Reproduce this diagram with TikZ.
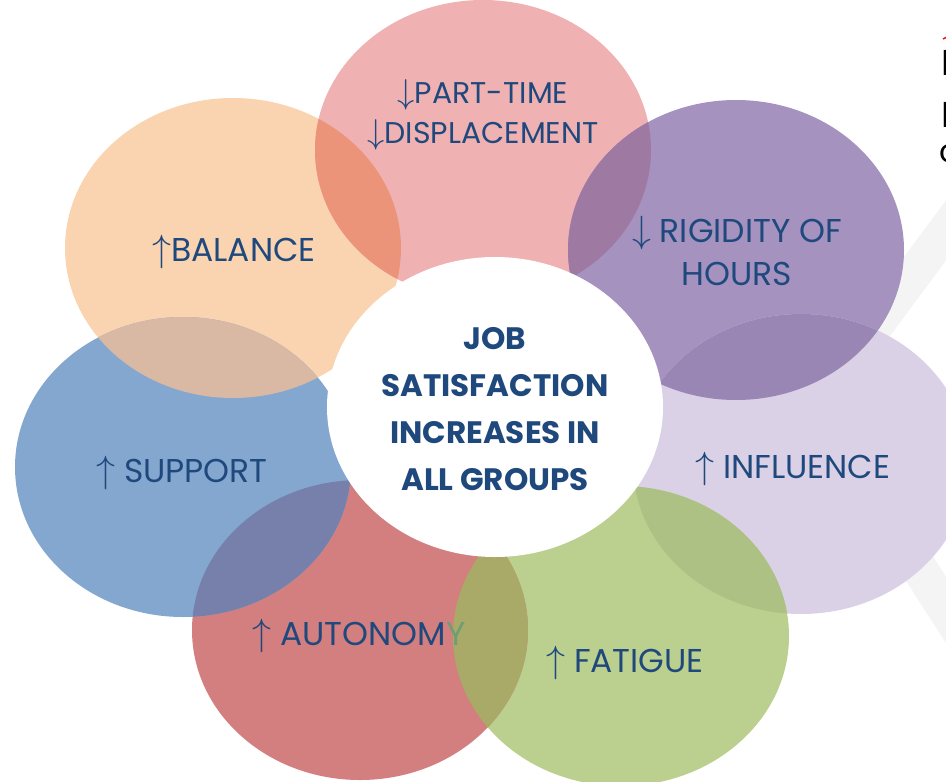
\RequirePackage{fix-cm}
\documentclass[tikz,border=0pt]{standalone}
\usepackage{fontspec}
\newfontfamily\lblfont{Poppins}

\definecolor{navy}{HTML}{1F497D}
\definecolor{cOrange}{HTML}{FAD4B0}
\definecolor{cPink}{HTML}{F0B1B3}
\definecolor{cPurple}{HTML}{A592BF}
\definecolor{cLavender}{HTML}{DAD1E6}
\definecolor{cGreen}{HTML}{BBCF8F}
\definecolor{cRed}{HTML}{D47F7F}
\definecolor{cBlue}{HTML}{84A7CF}
\definecolor{xOrPk}{HTML}{EC9479}
\definecolor{xPkPu}{HTML}{9E7AA3}
\definecolor{xPuLv}{HTML}{9A86B4}
\definecolor{xLvGr}{HTML}{AEC185}
\definecolor{xGrRd}{HTML}{A9AA67}
\definecolor{xRdBl}{HTML}{7680AA}
\definecolor{xBlOr}{HTML}{D9B9A3}
\definecolor{yGreen}{HTML}{6E9E73}
\definecolor{wmark}{HTML}{F4F4F4}

\newcommand\uarr{\scalebox{1.15}{$\uparrow$}}
\newcommand\darr{\scalebox{1.15}{$\downarrow$}}

\begin{document}
\begin{tikzpicture}[x=1pt,y=-1pt,
  petal/.style={x radius=168pt,y radius=150pt},
  lbl/.style={text=navy,anchor=base,align=center,inner sep=0pt,
    font=\lblfont\fontsize{33}{43}\selectfont},
  hub/.style={text=navy,anchor=base,align=center,inner sep=0pt,
    font=\lblfont\bfseries\fontsize{31}{46.7}\selectfont},
  side/.style={text=black,anchor=base west,inner sep=0pt,
    font=\lblfont\fontsize{36}{40}\selectfont}]
\useasboundingbox (0,0) rectangle (946,782);
\clip (0,0) rectangle (946,782);

% faint chevron in the background
\draw[wmark,line width=36pt] (820,400) -- (985,178);
\draw[wmark,line width=36pt] (820,414) -- (975,655);

% petal centres
\coordinate (cOr) at (233,248);
\coordinate (cPk) at (483,150);
\coordinate (cPu) at (736,250);
\coordinate (cLv) at (801,464);
\coordinate (cGr) at (621,636);
\coordinate (cRd) at (360,630);
\coordinate (cBl) at (183,467);
\coordinate (cHub) at (495,407);

% petals
\fill[cOrange]   (cOr) ellipse [petal];
\fill[cPink]     (cPk) ellipse [petal];
\fill[cPurple]   (cPu) ellipse [petal];
\fill[cLavender] (cLv) ellipse [petal];
\fill[cGreen]    (cGr) ellipse [petal];
\fill[cRed]      (cRd) ellipse [petal];
\fill[cBlue]     (cBl) ellipse [petal];

% overlaps of neighbouring petals
\begin{scope}\clip (cOr) ellipse [petal]; \fill[xOrPk] (cPk) ellipse [petal];\end{scope}
\begin{scope}\clip (cPk) ellipse [petal]; \fill[xPkPu] (cPu) ellipse [petal];\end{scope}
\begin{scope}\clip (cPu) ellipse [petal]; \fill[xPuLv] (cLv) ellipse [petal];\end{scope}
\begin{scope}\clip (cLv) ellipse [petal]; \fill[xLvGr] (cGr) ellipse [petal];\end{scope}
\begin{scope}\clip (cGr) ellipse [petal]; \fill[xGrRd] (cRd) ellipse [petal];\end{scope}
\begin{scope}\clip (cRd) ellipse [petal]; \fill[xRdBl] (cBl) ellipse [petal];\end{scope}
\begin{scope}\clip (cBl) ellipse [petal]; \fill[xBlOr] (cOr) ellipse [petal];\end{scope}

% central disc
\fill[white] (cHub) ellipse [petal];

% petal labels (base anchor sits on the last line)
\node[lbl,font=\lblfont\fontsize{30}{40}\selectfont] (parttime) at (483,143)
  {\darr PART-TIME\\\darr DISPLACEMENT};
\node[lbl] (balance) at (234,261) {\uarr BALANCE};
\node[lbl] (rigidity) at (737,285) {\darr{} RIGIDITY OF\\HOURS};
\node[lbl] (support) at (182,482) {\uarr{} SUPPORT};
\node[lbl] (influence) at (793,478) {\uarr{} INFLUENCE};
\node[lbl] (autonomy) at (359,645) {\uarr{} AUTONOM\textcolor{yGreen}{Y}};
\node[lbl] (fatigue) at (625,672) {\uarr{} FATIGUE};

% central statement
\node[hub] (hubtext) at (495,490) {JOB\\SATISFACTION\\INCREASES IN\\ALL GROUPS};

% text running in from the right edge
\draw[red,line width=1.5pt] (943,39) -- (947,37);
\node[side] (edge1) at (941,75) {I};
\node[side] (edge2) at (941,127) {I};
\node[side,font=\lblfont\fontsize{32}{34}\selectfont] (edge3) at (939,162) {c};
\end{tikzpicture}
\end{document}
